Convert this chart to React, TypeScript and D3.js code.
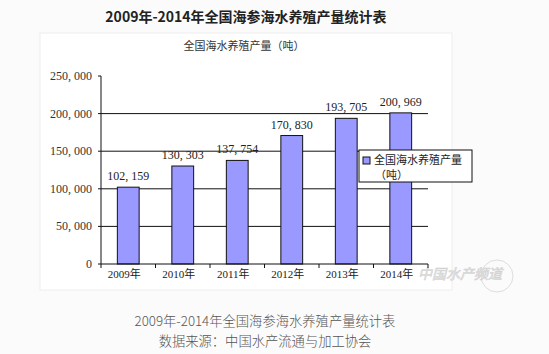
import * as d3 from "d3";
import React, {useEffect, useRef} from "react";

const years = ['2009年', '2010年', '2011年', '2012年', '2013年', '2014年'];
const output = [102159, 130303, 137754, 170830, 193705, 200969];
const yTicks = [0, 50000, 100000, 150000, 200000, 250000];

const title = '2009年-2014年全国海参海水养殖产量统计表';
const subTitle = '全国海水养殖产量（吨）';
const legendLines = ['全国海水养殖产量', '（吨）'];
const captionLines = ['2009年-2014年全国海参海水养殖产量统计表', '数据来源：中国水产流通与加工协会'];

const cjk = '"Noto Sans CJK SC", sans-serif';
const numFont = '"Liberation Serif", "Noto Sans CJK SC", serif';

// Excel style "102, 159"
const fmt = (v: number) => d3.format(',')(v).replace(/,/g, ', ');

const App: React.FC = () => {
  const ref = useRef<SVGSVGElement | null>(null);

  useEffect(() => {
    const width = 549;
    const height = 354;
    const svg = d3.select(ref.current);
    svg.selectAll('*').remove();
    svg.attr('width', width).attr('height', height);

    svg.append('rect').attr('width', width).attr('height', height).attr('fill', '#fbfbfb');

    // chart panel
    svg.append('rect')
      .attr('x', 40).attr('y', 33).attr('width', 412).attr('height', 257)
      .attr('fill', '#fff').attr('stroke', '#eeeeee');

    svg.append('text')
      .attr('x', 246).attr('y', 22)
      .attr('text-anchor', 'middle')
      .style('font-family', cjk).style('font-size', '14px').style('font-weight', 'bold')
      .attr('fill', '#222')
      .text(title);

    svg.append('text')
      .attr('x', 244).attr('y', 50)
      .attr('text-anchor', 'middle')
      .style('font-family', cjk).style('font-size', '11px')
      .attr('fill', '#333')
      .text(subTitle);

    const margin = { top: 76, right: 121, bottom: 90, left: 101 };

    const xScale = d3.scaleBand()
      .domain(years)
      .range([margin.left, width - margin.right])
      .paddingInner(0.6)
      .paddingOuter(0.3);

    const xBounds = d3.scaleBand().domain(years).range([margin.left, width - margin.right]);

    const yScale = d3.scaleLinear()
      .domain([0, 250000])
      .range([height - margin.bottom, margin.top]);

    // watermark (under the axis labels)
    svg.append('circle')
      .attr('cx', 497).attr('cy', 276).attr('r', 16)
      .attr('fill', 'none').attr('stroke', '#dddddd');
    svg.append('text')
      .attr('x', 460).attr('y', 279)
      .attr('text-anchor', 'middle')
      .style('font-family', cjk).style('font-size', '14px').style('font-style', 'italic')
      .attr('fill', '#e4e4e4').attr('stroke', '#cfcfcf').attr('stroke-width', 0.5)
      .text('中国水产频道');

    // grid lines
    svg.append('g')
      .selectAll('line')
      .data(yTicks.filter(t => t !== 0 && t !== 250000))
      .enter()
      .append('line')
      .attr('x1', margin.left).attr('x2', width - margin.right)
      .attr('y1', d => yScale(d)).attr('y2', d => yScale(d))
      .attr('stroke', '#111').attr('stroke-width', 1);

    // bars
    const barGroups = svg.selectAll('.bar-group')
      .data(output)
      .enter()
      .append('g')
      .attr('class', 'bar-group')
      .attr('transform', (_, i) => `translate(${xScale(years[i])}, 0)`);

    barGroups.append('rect')
      .attr('y', d => yScale(d))
      .attr('width', xScale.bandwidth())
      .attr('height', d => yScale(0) - yScale(d))
      .attr('fill', '#9999ff')
      .attr('stroke', '#111')
      .attr('stroke-width', 1);

    barGroups.append('text')
      .attr('x', xScale.bandwidth() / 2)
      .attr('y', d => yScale(d) - 7)
      .attr('text-anchor', 'middle')
      .style('font-family', numFont).style('font-size', '12px')
      .attr('fill', '#222')
      .text(d => fmt(d));

    // x axis
    svg.append('line')
      .attr('x1', margin.left).attr('x2', width - margin.right)
      .attr('y1', yScale(0)).attr('y2', yScale(0))
      .attr('stroke', '#111');
    svg.append('g')
      .selectAll('line')
      .data([...years.map(y => xBounds(y) as number), width - margin.right])
      .enter()
      .append('line')
      .attr('x1', d => d).attr('x2', d => d)
      .attr('y1', yScale(0)).attr('y2', yScale(0) + 4)
      .attr('stroke', '#111');
    svg.append('g')
      .selectAll('text')
      .data(years)
      .enter()
      .append('text')
      .attr('x', d => (xScale(d) as number) + xScale.bandwidth() / 2 - 4)
      .attr('y', yScale(0) + 14)
      .attr('text-anchor', 'middle')
      .style('font-family', numFont).style('font-size', '11px')
      .attr('fill', '#222')
      .text(d => d);

    // y axis
    svg.append('line')
      .attr('x1', margin.left).attr('x2', margin.left)
      .attr('y1', yScale(0)).attr('y2', yScale(250000))
      .attr('stroke', '#111');
    const yAxis = svg.append('g').selectAll('g').data(yTicks).enter().append('g');
    yAxis.append('line')
      .attr('x1', margin.left - 3).attr('x2', margin.left)
      .attr('y1', d => yScale(d)).attr('y2', d => yScale(d))
      .attr('stroke', '#111');
    yAxis.append('text')
      .attr('x', margin.left - 9)
      .attr('y', d => yScale(d) + 4)
      .attr('text-anchor', 'end')
      .style('font-family', numFont).style('font-size', '12px')
      .attr('fill', '#333')
      .text(d => fmt(d));

    // legend
    const legend = svg.append('g').attr('transform', 'translate(359, 150)');
    legend.append('rect')
      .attr('width', 113).attr('height', 32)
      .attr('fill', '#fff').attr('stroke', '#111');
    legend.append('rect')
      .attr('x', 4).attr('y', 7).attr('width', 7).attr('height', 7)
      .attr('fill', '#9999ff').attr('stroke', '#111');
    legend.selectAll('.lg')
      .data(legendLines)
      .enter()
      .append('text')
      .attr('class', 'lg')
      .attr('x', (_, i) => i === 0 ? 15 : 16)
      .attr('y', (_, i) => 14 + i * 15)
      .style('font-family', cjk).style('font-size', '11px')
      .attr('fill', '#222')
      .text(d => d);

    // caption
    svg.append('g')
      .selectAll('text')
      .data(captionLines)
      .enter()
      .append('text')
      .attr('x', 265)
      .attr('y', (_, i) => 326 + i * 20)
      .attr('text-anchor', 'middle')
      .style('font-family', cjk).style('font-size', '13.3px').style('font-weight', 300)
      .attr('fill', '#555')
      .text(d => d);

    return () => {
      svg.selectAll('*').remove();
    };
  }, []);

  return <svg ref={ref} style={{position: 'absolute', left: 0, top: 0}}/>;
};

export default App;
